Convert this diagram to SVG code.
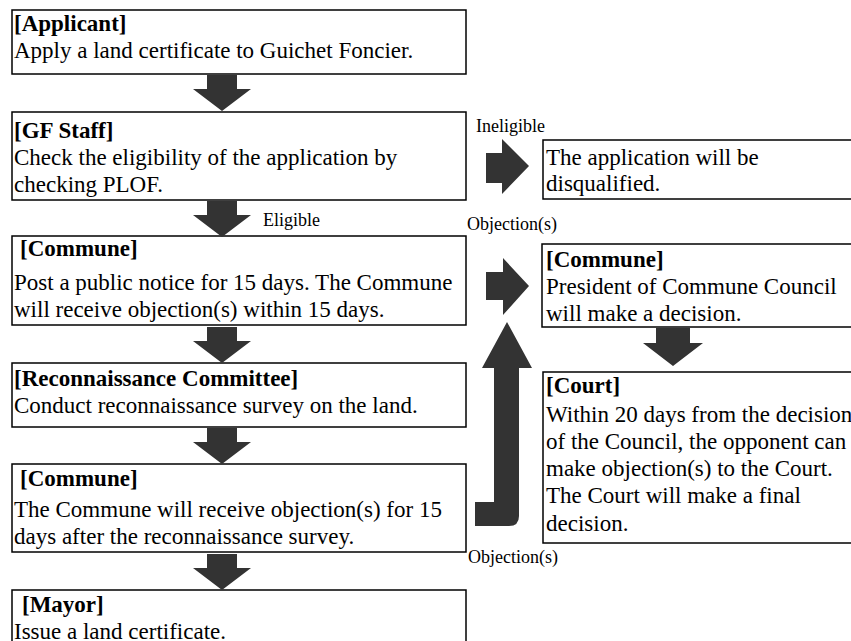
<svg xmlns="http://www.w3.org/2000/svg" width="851" height="641" viewBox="0 0 851 641">
  <style>
    .box { fill: #ffffff; stroke: #000000; stroke-width: 1.5; }
    .t { font-family: "Liberation Serif", "Times New Roman", serif; font-size: 23px; fill: #000000; }
    .h { font-weight: bold; }
    .lbl { font-family: "Liberation Serif", "Times New Roman", serif; font-size: 18px; fill: #000000; }
    .arr { fill: #333333; }
  </style>
  <defs>
    <!-- block arrow pointing down, top-centre at origin -->
    <path id="down" d="M-15,0 H15 V14 H29 L0,36 L-29,14 H-15 Z"/>
  </defs>

  <rect width="851" height="641" fill="#ffffff"/>

  <!-- left column -->
  <g id="applicant">
    <rect class="box" x="12" y="10" width="454" height="64"/>
    <text class="t h" x="14" y="31">[Applicant]</text>
    <text class="t" x="14" y="58">Apply a land certificate to Guichet Foncier.</text>
  </g>

  <g id="gf-staff">
    <rect class="box" x="12" y="112" width="454" height="88"/>
    <text class="t h" x="14" y="138">[GF Staff]</text>
    <text class="t" x="14" y="165">Check the eligibility of the application by</text>
    <text class="t" x="14" y="192">checking PLOF.</text>
  </g>

  <g id="commune-notice">
    <rect class="box" x="12" y="236" width="454" height="89"/>
    <text class="t h" x="20" y="256">[Commune]</text>
    <text class="t" x="14" y="290">Post a public notice for 15 days. The Commune</text>
    <text class="t" x="14" y="317">will receive objection(s) within 15 days.</text>
  </g>

  <g id="reconnaissance">
    <rect class="box" x="12" y="363" width="454" height="64"/>
    <text class="t h" x="14" y="386">[Reconnaissance Committee]</text>
    <text class="t" x="14" y="413">Conduct reconnaissance survey on the land.</text>
  </g>

  <g id="commune-objection">
    <rect class="box" x="12" y="464" width="454" height="88"/>
    <text class="t h" x="20" y="486">[Commune]</text>
    <text class="t" x="14" y="517">The Commune will receive objection(s) for 15</text>
    <text class="t" x="14" y="544">days after the reconnaissance survey.</text>
  </g>

  <g id="mayor">
    <rect class="box" x="12" y="590" width="454" height="70"/>
    <text class="t h" x="22" y="612">[Mayor]</text>
    <text class="t" x="14" y="639">Issue a land certificate.</text>
  </g>

  <!-- right column -->
  <g id="disqualified">
    <rect class="box" x="543" y="140" width="320" height="59"/>
    <text class="t" x="546" y="165">The application will be</text>
    <text class="t" x="546" y="191">disqualified.</text>
  </g>

  <g id="commune-council">
    <rect class="box" x="542" y="244" width="320" height="83"/>
    <text class="t h" x="546" y="267">[Commune]</text>
    <text class="t" x="546" y="294">President of Commune Council</text>
    <text class="t" x="546" y="321">will make a decision.</text>
  </g>

  <g id="court">
    <rect class="box" x="543" y="372" width="320" height="171"/>
    <text class="t h" x="546" y="393">[Court]</text>
    <text class="t" x="546" y="422">Within 20 days from the decision</text>
    <text class="t" x="546" y="449">of the Council, the opponent can</text>
    <text class="t" x="546" y="476">make objection(s) to the Court.</text>
    <text class="t" x="546" y="503">The Court will make a final</text>
    <text class="t" x="546" y="531">decision.</text>
  </g>

  <!-- connectors -->
  <g id="connectors">
    <use class="arr" href="#down" x="222" y="75"/>
    <use class="arr" href="#down" x="222" y="201"/>
    <use class="arr" href="#down" x="222" y="327"/>
    <use class="arr" href="#down" x="222" y="428"/>
    <use class="arr" href="#down" x="222" y="554"/>
    <path class="arr" d="M656,328 H690 V343 H703 L673,366 L643,343 H656 Z"/>
    <path class="arr" d="M486,153 H502 V139 L529,166 L502,194 V183 H486 Z"/>
    <path class="arr" d="M486,272 H503 V258 L529,286 L503,315 V300 H486 Z"/>
    <path class="arr" d="M507,322 L532,368 H519 V516 Q519,526 509,526 H475 V502 H494 V368 H482 Z"/>
    <text class="lbl" x="263" y="226">Eligible</text>
    <text class="lbl" x="476" y="132">Ineligible</text>
    <text class="lbl" x="467" y="230">Objection(s)</text>
    <text class="lbl" x="468" y="563">Objection(s)</text>
  </g>
</svg>
